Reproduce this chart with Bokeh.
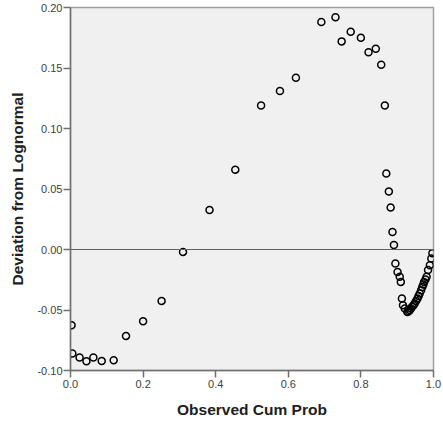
from bokeh.plotting import figure
from bokeh.models import Range1d, FixedTicker, NumeralTickFormatter, Span
from bokeh.embed import file_html
from bokeh.resources import INLINE

obs_cum_prob = [0.003, 0.005, 0.025, 0.044, 0.063, 0.086, 0.119, 0.153, 0.200, 0.251,
                0.310, 0.383, 0.454, 0.525, 0.577, 0.621, 0.691, 0.730, 0.747, 0.772,
                0.800, 0.821, 0.841, 0.856, 0.866, 0.870, 0.877, 0.882, 0.887, 0.891,
                0.895, 0.901, 0.907, 0.910, 0.913, 0.916, 0.921, 0.928, 0.932, 0.935,
                0.938, 0.941, 0.945, 0.948, 0.952, 0.956, 0.959, 0.962, 0.966, 0.969,
                0.972, 0.974, 0.978, 0.981, 0.985, 0.990, 0.994, 0.997]
deviation = [-0.0626, -0.0860, -0.0893, -0.0923, -0.0893, -0.0921, -0.0915, -0.0714, -0.0593, -0.0425,
             -0.0020, 0.0327, 0.0660, 0.1190, 0.1310, 0.1420, 0.1880, 0.1920, 0.1720, 0.1800,
             0.1750, 0.1630, 0.1660, 0.1526, 0.1190, 0.0628, 0.0479, 0.0347, 0.0145, 0.0038,
             -0.0116, -0.0185, -0.0226, -0.0268, -0.0405, -0.0460, -0.0488, -0.0516, -0.0510, -0.0500,
             -0.0488, -0.0474, -0.0460, -0.0446, -0.0425, -0.0405, -0.0385, -0.0364, -0.0337, -0.0310,
             -0.0290, -0.0268, -0.0247, -0.0226, -0.0170, -0.0130, -0.0074, -0.0030]

x_ticks = [0.0, 0.2, 0.4, 0.6, 0.8, 1.0]
y_ticks = [-0.10, -0.05, 0.00, 0.05, 0.10, 0.15, 0.20]

p = figure(width=443, height=423, output_backend="svg", toolbar_location=None,
           x_range=Range1d(0, 1.0), y_range=Range1d(-0.10, 0.20),
           min_border_left=70, min_border_right=10, min_border_top=7, min_border_bottom=53)
p.background_fill_color = "#F0F0F0"
p.border_fill_color = "white"
p.outline_line_color = "#A0A0A0"
p.outline_line_width = 1.5
p.xgrid.visible = False
p.ygrid.visible = False

for ax in (p.xaxis[0], p.yaxis[0]):
    ax.axis_line_color = "#707070"
    ax.axis_line_width = 1.5
    ax.major_tick_line_color = "#707070"
    ax.major_tick_line_width = 1.5
    ax.major_tick_out = 7
    ax.major_tick_in = 0
    ax.minor_tick_line_color = None
    ax.major_label_text_font = "Liberation Sans"
    ax.major_label_text_font_size = "11px"
    ax.major_label_text_color = "#404040"
    ax.axis_label_text_font = "Liberation Sans"
    ax.axis_label_text_font_style = "bold"
    ax.axis_label_text_font_size = "15.5px"
    ax.axis_label_text_color = "#202020"

p.xaxis.ticker = FixedTicker(ticks=x_ticks)
p.yaxis.ticker = FixedTicker(ticks=y_ticks)
p.xaxis.formatter = NumeralTickFormatter(format="0.0")
p.yaxis.formatter = NumeralTickFormatter(format="0.00")
p.xaxis.major_label_standoff = 2
p.yaxis.major_label_standoff = 1
p.xaxis.axis_label = "Observed Cum Prob"
p.yaxis.axis_label = "Deviation from Lognormal"
p.xaxis.axis_label_standoff = 10
p.yaxis.axis_label_standoff = 8

p.add_layout(Span(location=0, dimension="width", line_color="#606060", line_width=1.2))

p.scatter(obs_cum_prob, deviation, marker="circle", size=7, fill_color=None,
          line_color="black", line_width=1.5)

open("out.html", "w").write(file_html(p, INLINE))
